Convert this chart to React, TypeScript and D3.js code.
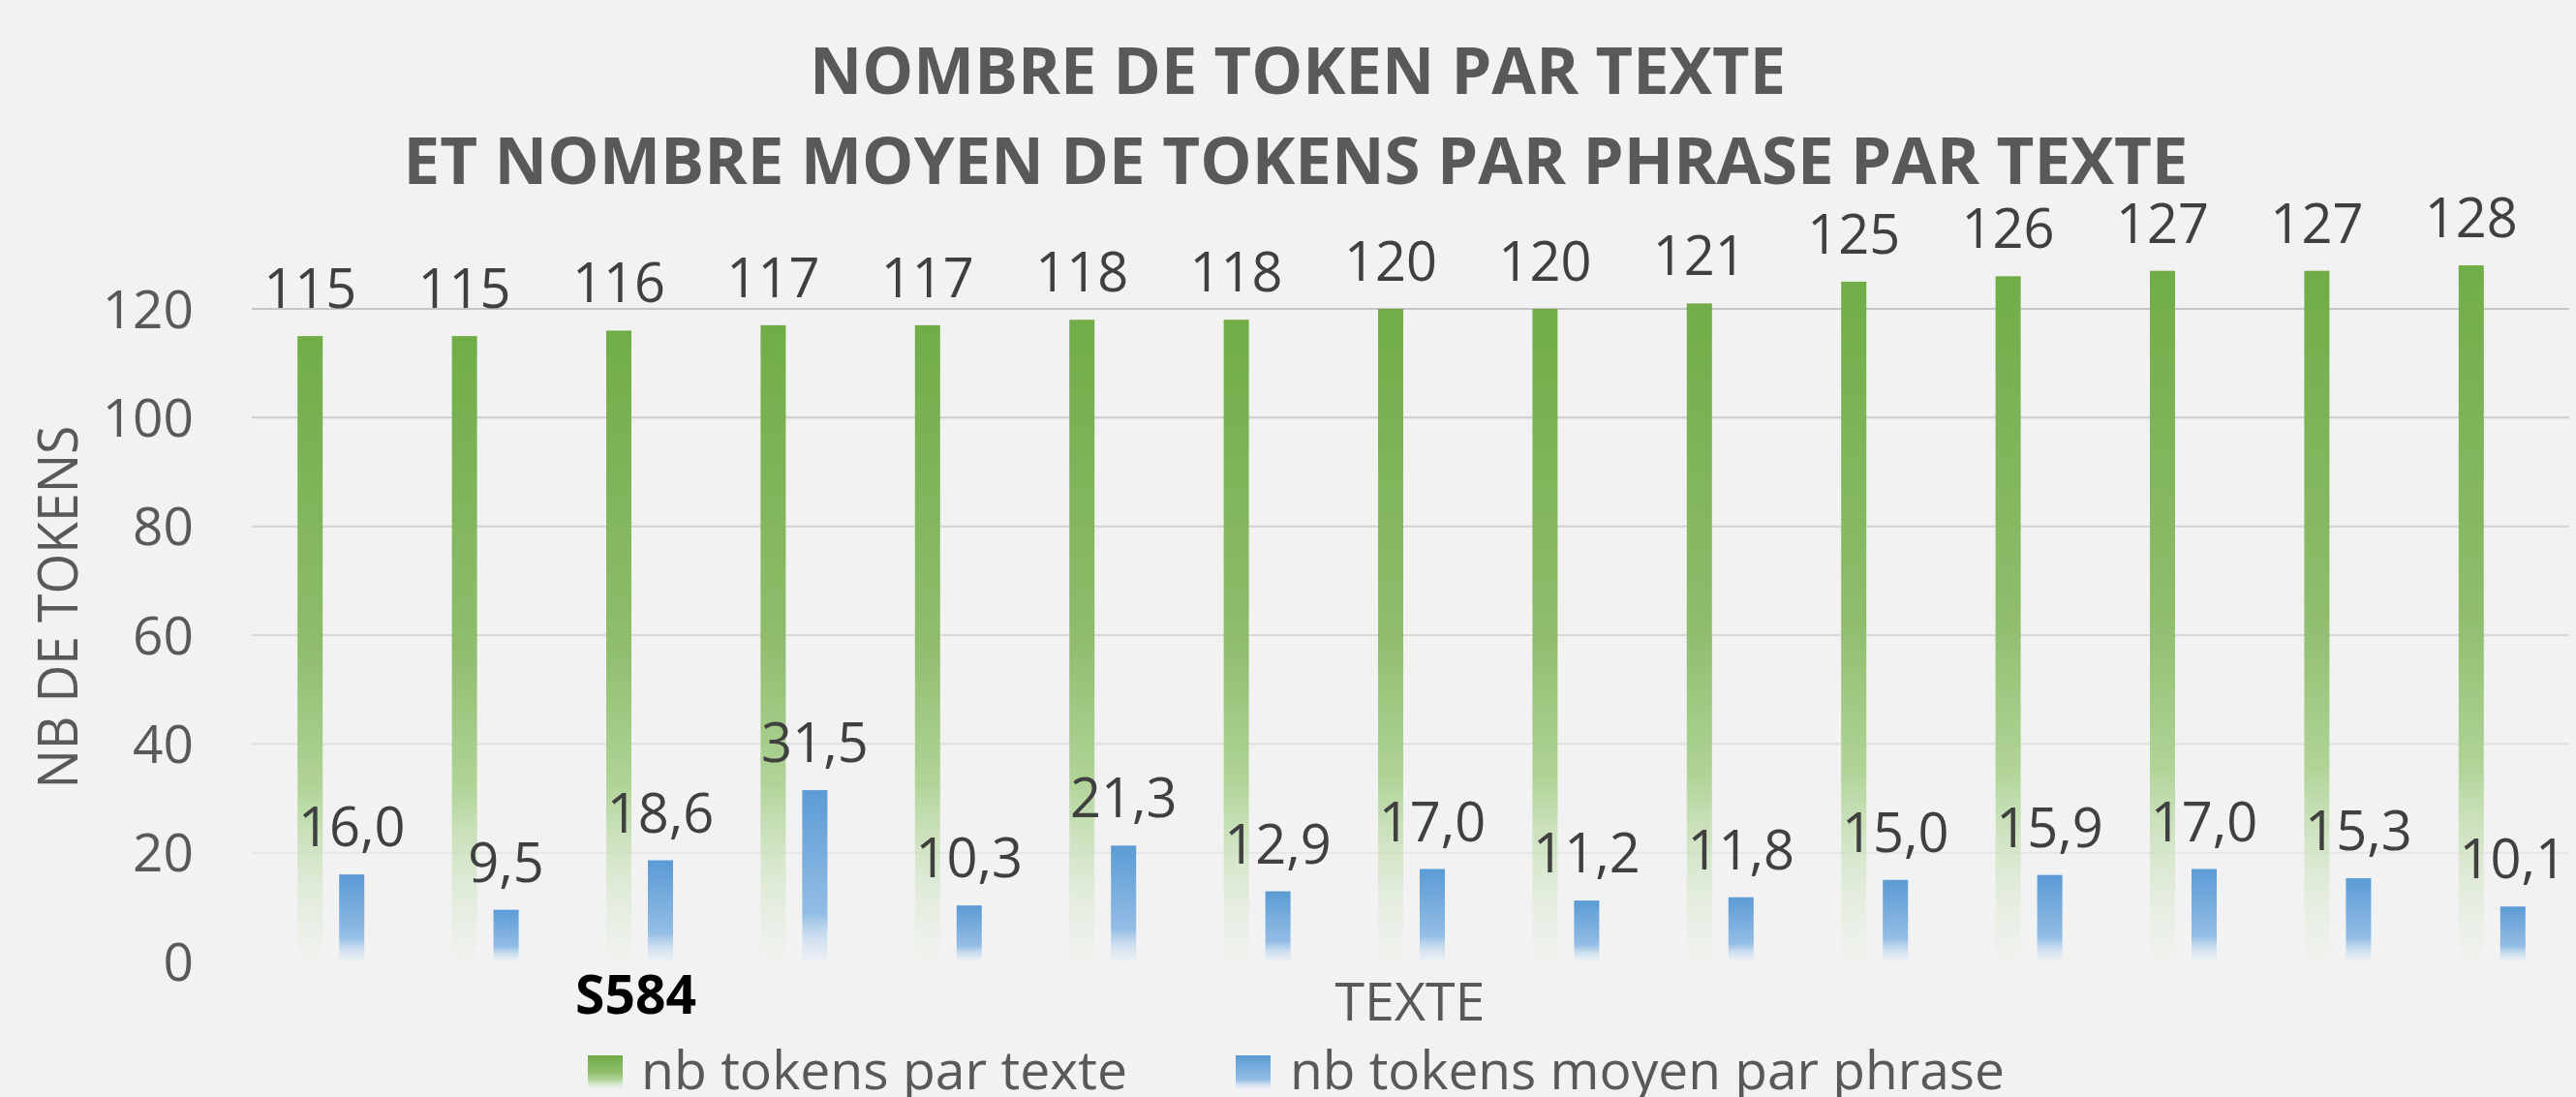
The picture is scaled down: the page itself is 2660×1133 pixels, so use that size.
import React from "react";
import * as d3 from "d3";

// only one category label is visible on the axis
const textes = ["", "", "S584", "", "", "", "", "", "", "", "", "", "", "", ""];
const tokensParTexte = [115, 115, 116, 117, 117, 118, 118, 120, 120, 121, 125, 126, 127, 127, 128];
const tokensMoyenParPhrase = [16.0, 9.5, 18.6, 31.5, 10.3, 21.3, 12.9, 17.0, 11.2, 11.8, 15.0, 15.9, 17.0, 15.3, 10.1];
const yTicks = [0, 20, 40, 60, 80, 100, 120];
const seriesNames = ["nb tokens par texte", "nb tokens moyen par phrase"];
const titleLines = ["NOMBRE DE TOKEN PAR TEXTE", "ET NOMBRE MOYEN DE TOKENS PAR PHRASE PAR TEXTE"];

const W = 2660;
const H = 1133;
const FONT = "'Open Sans', 'Noto Sans', sans-serif";

const App = () => {
  const x = d3
    .scaleBand<string>()
    .domain(textes.map((_, i) => String(i)))
    .range([262, 2653])
    .paddingInner(0)
    .paddingOuter(0);
  const inner = d3
    .scaleBand<string>()
    .domain(["a", "b"])
    .range([-34.5, 34.5])
    .paddingInner(0.395)
    .paddingOuter(0);
  const y = d3.scaleLinear().domain([0, 120]).range([993, 319]);
  const gridColor = d3
    .scaleLinear<string>()
    .domain([20, 120])
    .range(["#e6e6e6", "#c4c4c4"]);

  const center = (i: number) => (x(String(i)) as number) + x.bandwidth() / 2;
  const fmt1 = (v: number) => d3.format(".1f")(v).replace(".", ",");

  return (
    <svg
      width={W}
      height={H}
      style={{ position: "absolute", left: 0, top: 0, display: "block" }}
    >
      <defs>
        <linearGradient id="gGreen" x1="0" y1="0" x2="0" y2="1">
          <stop offset="0" stopColor="#70ad47" />
          <stop offset="0.5" stopColor="#8fbd6d" />
          <stop offset="0.72" stopColor="#b0d497" />
          <stop offset="1" stopColor="#e2efda" stopOpacity="0.15" />
        </linearGradient>
        <linearGradient id="gBlue" x1="0" y1="0" x2="0" y2="1">
          <stop offset="0" stopColor="#5b9bd5" />
          <stop offset="0.72" stopColor="#93bde5" />
          <stop offset="1" stopColor="#deebf7" stopOpacity="0.3" />
        </linearGradient>
      </defs>
      <rect width={W} height={H} fill="#f2f2f2" />

      {/* titre */}
      <text
        x={1340}
        y={97}
        textAnchor="middle"
        fontFamily={FONT}
        fontWeight="bold"
        fontSize={66}
        fill="#595959"
        textLength={1008}
        lengthAdjust="spacingAndGlyphs"
      >
        {titleLines[0]}
      </text>
      <text
        x={1338}
        y={190}
        textAnchor="middle"
        fontFamily={FONT}
        fontWeight="bold"
        fontSize={66}
        fill="#595959"
        textLength={1843}
        lengthAdjust="spacingAndGlyphs"
      >
        {titleLines[1]}
      </text>

      {/* grille + axe y */}
      {yTicks.map((t) => (
        <g key={t}>
          {t > 0 && (
            <line
              x1={260}
              x2={2653}
              y1={y(t)}
              y2={y(t)}
              stroke={gridColor(t)}
              strokeWidth={2}
            />
          )}
          <text
            x={200}
            y={y(t)}
            dy="0.36em"
            textAnchor="end"
            fontFamily={FONT}
            fontSize={55}
            fill="#595959"
          >
            {t}
          </text>
        </g>
      ))}

      <text
        transform={`translate(80,627) rotate(-90)`}
        textAnchor="middle"
        fontFamily={FONT}
        fontSize={56}
        fill="#595959"
        textLength={375}
        lengthAdjust="spacingAndGlyphs"
      >
        NB DE TOKENS
      </text>

      {/* barres */}
      {tokensParTexte.map((v, i) => {
        const bx = center(i) + (inner("a") as number);
        return (
          <g key={"g" + i}>
            <rect
              x={bx}
              y={y(v)}
              width={inner.bandwidth()}
              height={y(0) - y(v)}
              fill="url(#gGreen)"
            />
            <text
              x={bx + inner.bandwidth() / 2}
              y={y(v) - 29}
              textAnchor="middle"
              fontFamily={FONT}
              fontSize={56}
              fill="#404040"
            >
              {d3.format("d")(v)}
            </text>
          </g>
        );
      })}
      {tokensMoyenParPhrase.map((v, i) => {
        const bx = center(i) + (inner("b") as number);
        return (
          <g key={"b" + i}>
            <rect
              x={bx}
              y={y(v)}
              width={inner.bandwidth()}
              height={y(0) - y(v)}
              fill="url(#gBlue)"
            />
            <text
              x={bx + inner.bandwidth() / 2}
              y={y(v) - 29}
              textAnchor="middle"
              fontFamily={FONT}
              fontSize={56}
              fill="#404040"
            >
              {fmt1(v)}
            </text>
          </g>
        );
      })}

      {/* étiquettes de catégorie */}
      {textes.map((c, i) =>
        c ? (
          <text
            key={"c" + i}
            x={center(i) - 4}
            y={1047}
            textAnchor="middle"
            fontFamily={FONT}
            fontWeight="bold"
            fontSize={56}
            fill="#000000"
            textLength={125}
            lengthAdjust="spacingAndGlyphs"
          >
            {c}
          </text>
        ) : null
      )}

      <text
        x={1456}
        y={1054}
        textAnchor="middle"
        fontFamily={FONT}
        fontSize={54}
        fill="#595959"
        textLength={155}
        lengthAdjust="spacingAndGlyphs"
      >
        TEXTE
      </text>

      {/* légende */}
      <rect x={607} y={1090} width={36} height={35} fill="url(#gGreen)" />
      <text
        x={662}
        y={1125}
        fontFamily={FONT}
        fontSize={55}
        fill="#595959"
        textLength={502}
        lengthAdjust="spacingAndGlyphs"
      >
        {seriesNames[0]}
      </text>
      <rect x={1276} y={1090} width={36} height={35} fill="url(#gBlue)" />
      <text
        x={1332}
        y={1125}
        fontFamily={FONT}
        fontSize={55}
        fill="#595959"
        textLength={738}
        lengthAdjust="spacingAndGlyphs"
      >
        {seriesNames[1]}
      </text>
    </svg>
  );
};

export default App;
